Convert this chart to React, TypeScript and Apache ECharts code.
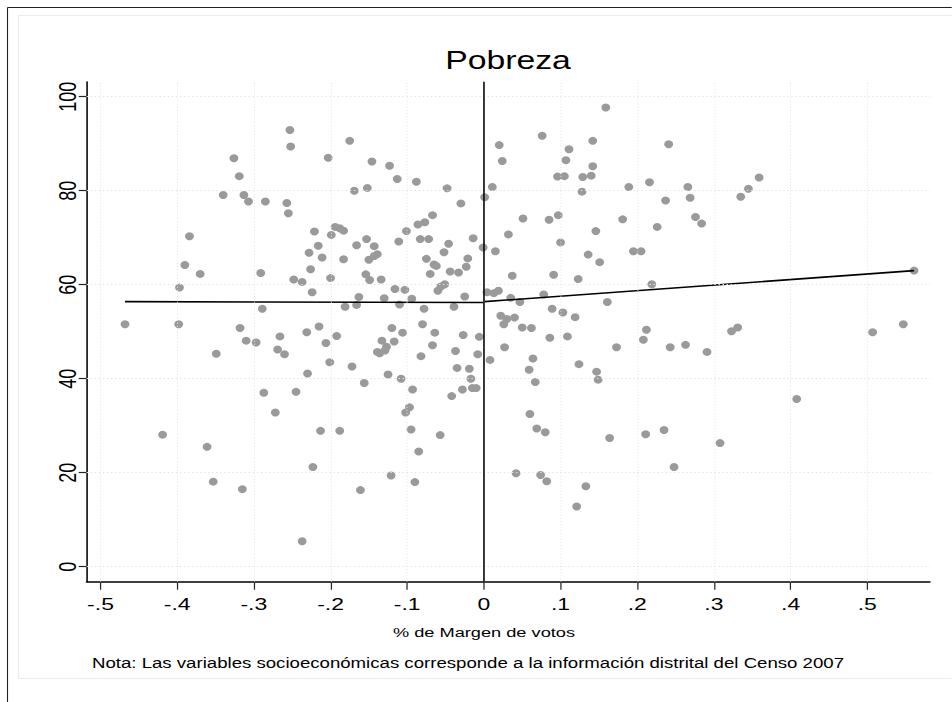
import React, { useEffect, useRef } from 'react';
import * as echarts from 'echarts';

const chartTitle = 'Pobreza';
const xAxisTitle = '% de Margen de votos';
const noteText = 'Nota: Las variables socioeconómicas corresponde a la información distrital del Censo 2007';

const xTicks = [-0.5, -0.4, -0.3, -0.2, -0.1, 0, 0.1, 0.2, 0.3, 0.4, 0.5];
const xTickLabels = ['-.5', '-.4', '-.3', '-.2', '-.1', '0', '.1', '.2', '.3', '.4', '.5'];
const yTicks = [0, 20, 40, 60, 80, 100];
const yTickLabels = ['0', '20', '40', '60', '80', '100'];

// margen de votos (x) por distrito
const margen = [
  -0.326, -0.319, -0.340, -0.313, -0.307, -0.285, -0.384, -0.390, -0.370, -0.291, -0.397, -0.289,
  -0.468, -0.398, -0.318, -0.310, -0.297, -0.349, -0.287, -0.272, -0.419, -0.361, -0.353, -0.315,
  -0.253, -0.252, -0.175, -0.203, -0.146, -0.123, -0.113, -0.088, -0.048, -0.152, -0.169, -0.257,
  -0.255, -0.030, -0.067, -0.077, -0.086, -0.101, -0.111, -0.083, -0.072, -0.046, -0.052, -0.014,
  -0.001, -0.021, -0.023, -0.075, -0.065, -0.062, -0.070, -0.044, -0.033, -0.051, -0.056, -0.060,
  -0.025, -0.039, -0.078, -0.094, -0.110, -0.103, -0.116, -0.130, -0.134, -0.149, -0.154, -0.150,
  -0.143, -0.139, -0.143, -0.153, -0.166, -0.183, -0.200, -0.224, -0.237, -0.248, -0.226, -0.228,
  -0.216, -0.211, -0.221, -0.199, -0.194, -0.188, -0.183, -0.163, -0.166, -0.181,
  -0.231, -0.215, -0.266, -0.269, -0.260, -0.206, -0.192, -0.201, -0.230, -0.172, -0.156, -0.245,
  -0.120, -0.106, -0.133, -0.117, -0.127, -0.139, -0.136, -0.129, -0.080, -0.064, -0.067, -0.082,
  -0.125, -0.108, -0.093, -0.097, -0.102, -0.095, -0.213, -0.188, -0.057, -0.085, -0.223, -0.121,
  -0.090, -0.161, -0.237, -0.027, -0.006, -0.037, -0.008, -0.035, -0.019, -0.017, -0.028, -0.015,
  -0.010, -0.042,
  0.159, 0.076, 0.020, 0.024, 0.142, 0.111, 0.107, 0.142, 0.096, 0.105, 0.129, 0.140, 0.241, 0.011,
  0.001, 0.128, 0.189, 0.216, 0.266, 0.269, 0.237, 0.051, 0.085, 0.097, 0.181, 0.226, 0.146, 0.032,
  0.100, 0.015, 0.195, 0.205, 0.136, 0.151, 0.037, 0.091, 0.123, 0.219, 0.004, 0.013, 0.019, 0.035,
  0.047, 0.078, 0.161, 0.089, 0.103,
  0.119, 0.022, 0.030, 0.040, 0.026, 0.050, 0.062, 0.086, 0.109, 0.027, 0.008, 0.064, 0.059, 0.067,
  0.124, 0.147, 0.149, 0.173, 0.212, 0.208, 0.243, 0.263, 0.060, 0.069, 0.080, 0.164, 0.211, 0.235,
  0.248, 0.042, 0.074, 0.082, 0.133, 0.121,
  0.276, 0.284, 0.335, 0.345, 0.359, 0.561, 0.291, 0.323, 0.331, 0.507, 0.547, 0.408, 0.308,
];

// tasa de pobreza (y) por distrito
const pobreza = [
  86.9, 83.1, 79.1, 79.1, 77.7, 77.7, 70.3, 64.2, 62.3, 62.5, 59.4, 54.9,
  51.6, 51.6, 50.8, 48.1, 47.7, 45.3, 37.0, 32.8, 28.1, 25.5, 18.1, 16.5,
  92.9, 89.4, 90.6, 87.0, 86.2, 85.3, 82.5, 81.9, 80.5, 80.6, 80.0, 77.4,
  75.2, 77.3, 74.8, 73.3, 72.8, 71.4, 69.2, 69.7, 69.7, 68.7, 66.9, 69.9,
  67.9, 65.6, 63.8, 65.5, 64.3, 64.0, 62.3, 62.8, 62.6, 60.1, 59.6, 58.7,
  57.5, 55.3, 54.9, 57.0, 55.8, 58.9, 59.1, 57.1, 61.1, 61.0, 62.2, 65.3,
  66.1, 66.5, 68.2, 69.7, 68.4, 65.4, 61.4, 58.4, 60.6, 61.1, 63.3, 66.8,
  68.3, 65.8, 71.3, 70.6, 72.3, 72.0, 71.5, 57.4, 55.7, 55.3,
  49.9, 51.1, 49.0, 46.2, 45.2, 47.6, 49.1, 43.5, 41.1, 42.6, 39.1, 37.2,
  50.8, 49.8, 48.1, 47.9, 46.8, 45.7, 45.4, 46.0, 51.6, 49.8, 47.1, 44.8,
  40.9, 40.0, 37.7, 33.9, 32.8, 29.2, 28.9, 28.9, 28.0, 24.5, 21.2, 19.4,
  18.0, 16.3, 5.4, 49.3, 48.9, 45.9, 45.2, 42.3, 42.1, 40.0, 37.7, 38.0,
  38.0, 36.3,
  97.7, 91.7, 89.7, 86.3, 90.6, 88.8, 86.5, 85.2, 83.0, 83.1, 82.9, 83.2, 89.9, 80.8,
  78.6, 79.8, 80.8, 81.8, 80.8, 78.5, 77.9, 74.1, 73.8, 74.8, 73.9, 72.3, 71.4, 70.7,
  69.0, 67.1, 67.1, 67.1, 66.4, 64.8, 61.9, 62.1, 61.2, 60.1, 58.4, 58.2, 58.7, 57.2,
  56.3, 57.9, 56.3, 54.9, 54.1,
  53.1, 53.4, 52.7, 53.0, 51.6, 50.9, 50.8, 48.7, 49.0, 46.7, 44.0, 44.3, 41.9, 39.3,
  43.1, 41.5, 39.8, 46.7, 50.4, 48.3, 46.7, 47.2, 32.5, 29.4, 28.6, 27.4, 28.2, 29.1,
  21.2, 19.9, 19.5, 18.2, 17.1, 12.8,
  74.4, 73.0, 78.7, 80.4, 82.8, 63.0, 45.7, 50.1, 50.9, 49.9, 51.6, 35.7, 26.3,
];

// ajuste lineal a cada lado del corte
const ajusteIzq = [[-0.468, 56.4], [-0.001, 56.2]];
const ajusteDer = [[0.001, 56.4], [0.561, 63.0]];
const corte = 0;

const FONT = '"Liberation Sans", Arial, Helvetica, sans-serif';
const X_MIN = -0.518;
const X_MAX = 0.5815;
const Y_MIN = -3.19;
const Y_MAX = 103.19;

// the exported graph is stretched horizontally; lay it out narrow and widen it
const STRETCH = 1.35;
const WIDTH = 952;
const HEIGHT = 702;
const INNER_W = WIDTH / STRETCH;
const sx = (px: number) => px / STRETCH;

const labelFor = (ticks: number[], labels: string[]) => (v: number) => {
  const i = ticks.findIndex((t) => Math.abs(t - v) < 1e-6);
  return i >= 0 ? labels[i] : '';
};

export default function App() {
  const ref = useRef<HTMLDivElement>(null);

  useEffect(() => {
    document.body.style.margin = '0';
    document.body.style.overflow = 'hidden';
    const chart = echarts.init(ref.current!, null, { renderer: 'svg' });

    const points = margen.map((m, i) => [m, pobreza[i]]);
    const gridStyle = { color: '#dde6e6', width: 1, type: [1, 2] as any };

    chart.setOption({
      animation: false,
      backgroundColor: '#ffffff',
      grid: { left: sx(86.7), right: INNER_W - sx(930), top: 81.7, bottom: HEIGHT - 581.7, containLabel: false },
      xAxis: {
        type: 'value',
        min: X_MIN,
        max: X_MAX,
        axisLine: { show: true, onZero: false, lineStyle: { color: '#000', width: 1.5 } },
        axisTick: { show: true, customValues: xTicks, length: 8, lineStyle: { color: '#222', width: 0.9 } },
        axisLabel: {
          customValues: xTicks,
          formatter: labelFor(xTicks, xTickLabels),
          fontSize: 17,
          color: '#000',
          margin: 14,
          fontFamily: FONT,
        },
        splitLine: { show: false },
      },
      yAxis: {
        type: 'value',
        min: Y_MIN,
        max: Y_MAX,
        axisLine: { show: true, onZero: false, lineStyle: { color: '#000', width: 1.15 } },
        axisTick: { show: true, customValues: yTicks, length: sx(8), lineStyle: { color: '#222', width: 1.2 } },
        axisLabel: {
          customValues: yTicks,
          formatter: labelFor(yTicks, yTickLabels),
          rotate: 90,
          fontSize: 18,
          color: '#000',
          margin: 5,
          fontFamily: FONT,
        },
        splitLine: { show: false },
      },
      series: [
        {
          type: 'scatter',
          name: 'grid',
          data: [],
          z: 1,
          silent: true,
          markLine: {
            silent: true,
            symbol: 'none',
            label: { show: false },
            lineStyle: gridStyle,
            data: [
              ...xTicks.map((v) => ({ xAxis: v, lineStyle: { ...gridStyle, width: 0.75 } })),
              ...yTicks.map((v) => ({ yAxis: v })),
            ],
          },
        },
        {
          type: 'scatter',
          data: points,
          symbol: 'circle',
          symbolSize: [6.5, 8],
          itemStyle: { color: '#9a9a9a', opacity: 1 },
          z: 3,
          markLine: {
            silent: true,
            symbol: 'none',
            label: { show: false },
            lineStyle: { color: '#000', width: 1.15, type: 'solid' },
            data: [{ xAxis: corte }],
          },
        },
        {
          type: 'line',
          data: ajusteIzq,
          showSymbol: false,
          symbol: 'none',
          lineStyle: { color: '#000', width: 1.6 },
          z: 4,
        },
        {
          type: 'line',
          data: ajusteDer,
          showSymbol: false,
          symbol: 'none',
          lineStyle: { color: '#000', width: 1.6 },
          z: 4,
        },
      ],
      graphic: [
        { type: 'line', shape: { x1: sx(7.5), y1: 7.5, x2: INNER_W, y2: 7.5 }, style: { stroke: '#222', lineWidth: 1 } },
        { type: 'line', shape: { x1: sx(7.5), y1: 7.5, x2: sx(7.5), y2: HEIGHT }, style: { stroke: '#222', lineWidth: 0.8 } },
        { type: 'rect', shape: { x: sx(18.5), y: 15.5, width: INNER_W, height: 663 }, style: { fill: 'none', stroke: '#ececec', lineWidth: 1 } },
        {
          type: 'text',
          x: sx(508),
          y: 60,
          style: { text: chartTitle, fontSize: 25, fontFamily: FONT, fill: '#000', textAlign: 'center', textVerticalAlign: 'middle' },
        },
        {
          type: 'text',
          x: sx(484),
          y: 632,
          style: { text: xAxisTitle, fontSize: 13.5, fontFamily: FONT, fill: '#000', textAlign: 'center', textVerticalAlign: 'middle' },
        },
        {
          type: 'text',
          x: sx(92),
          y: 663,
          style: { text: noteText, fontSize: 13.8, fontFamily: FONT, fill: '#000', textAlign: 'left', textVerticalAlign: 'middle' },
        },
      ],
    });

    return () => chart.dispose();
  }, []);

  return (
    <div style={{ width: WIDTH, height: HEIGHT, overflow: 'hidden' }}>
      <div
        ref={ref}
        style={{ width: INNER_W, height: HEIGHT, transform: `scaleX(${STRETCH})`, transformOrigin: '0 0' }}
      />
    </div>
  );
}
